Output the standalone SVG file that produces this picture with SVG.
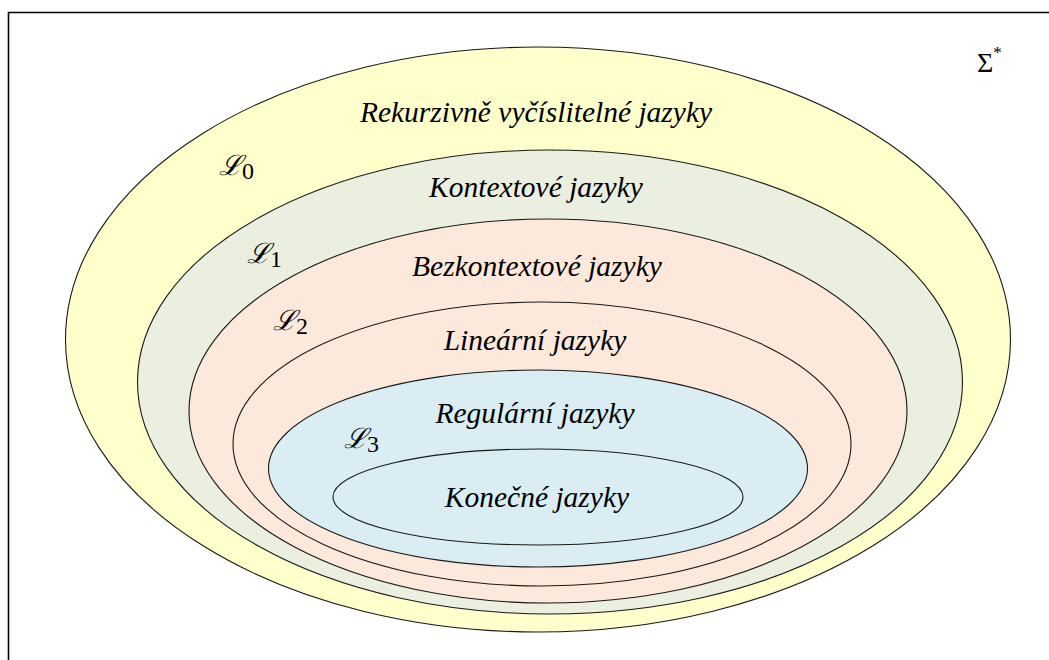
<svg xmlns="http://www.w3.org/2000/svg" width="1049" height="660" viewBox="0 0 1049 660">
  <style>
    .set { stroke: #1a1a1a; stroke-width: 1.1; }
    .lbl { font-family: 'Liberation Serif', 'Times New Roman', Times, serif; font-style: italic; font-size: 29.5px; fill: #000; text-anchor: middle; }
    .cls { font-family: 'DejaVu Serif', serif; font-style: italic; font-size: 28px; fill: #000; }
    .sub { font-family: 'Liberation Serif', 'Times New Roman', Times, serif; font-style: normal; font-size: 24px; fill: #000; }
  </style>
  <rect width="1049" height="660" fill="#ffffff"/>
  <!-- frame: top and left edges of the universe box -->
  <path d="M8.5,660 V12.5 H1049" fill="none" stroke="#000" stroke-width="1.6"/>
  <text x="977" y="72" font-family="'Liberation Serif', 'Times New Roman', serif" font-size="28px">Σ<tspan dy="-14" font-size="17px">*</tspan></text>

  <g id="re">
    <ellipse class="set" cx="538" cy="339.5" rx="472.5" ry="292.5" fill="#ffffcc"/>
    <text class="lbl" x="536" y="122">Rekurzivně vyčíslitelné jazyky</text>
    <text class="cls" x="219" y="175">ℒ<tspan class="sub" dy="4">0</tspan></text>
  </g>
  <g id="cs">
    <ellipse class="set" cx="550" cy="382" rx="412.5" ry="232" fill="#ebefdf"/>
    <text class="lbl" x="536" y="197">Kontextové jazyky</text>
    <text class="cls" x="247" y="263">ℒ<tspan class="sub" dy="4">1</tspan></text>
  </g>
  <g id="cf">
    <ellipse class="set" cx="548" cy="411" rx="359" ry="192" fill="#fde9db"/>
    <text class="lbl" x="537" y="276">Bezkontextové jazyky</text>
    <text class="cls" x="273" y="330">ℒ<tspan class="sub" dy="4">2</tspan></text>
  </g>
  <g id="lin">
    <ellipse class="set" cx="542" cy="444" rx="309" ry="142" fill="#fde9db"/>
    <text class="lbl" x="535" y="350">Lineární jazyky</text>
  </g>
  <g id="reg">
    <ellipse class="set" cx="538" cy="468.5" rx="269.5" ry="98.5" fill="#daedf3"/>
    <text class="lbl" x="535" y="423">Regulární jazyky</text>
    <text class="cls" x="344" y="448">ℒ<tspan class="sub" dy="4">3</tspan></text>
  </g>
  <g id="fin">
    <ellipse class="set" cx="538" cy="497" rx="205" ry="48" fill="#daedf3"/>
    <text class="lbl" x="537" y="507">Konečné jazyky</text>
  </g>
</svg>
